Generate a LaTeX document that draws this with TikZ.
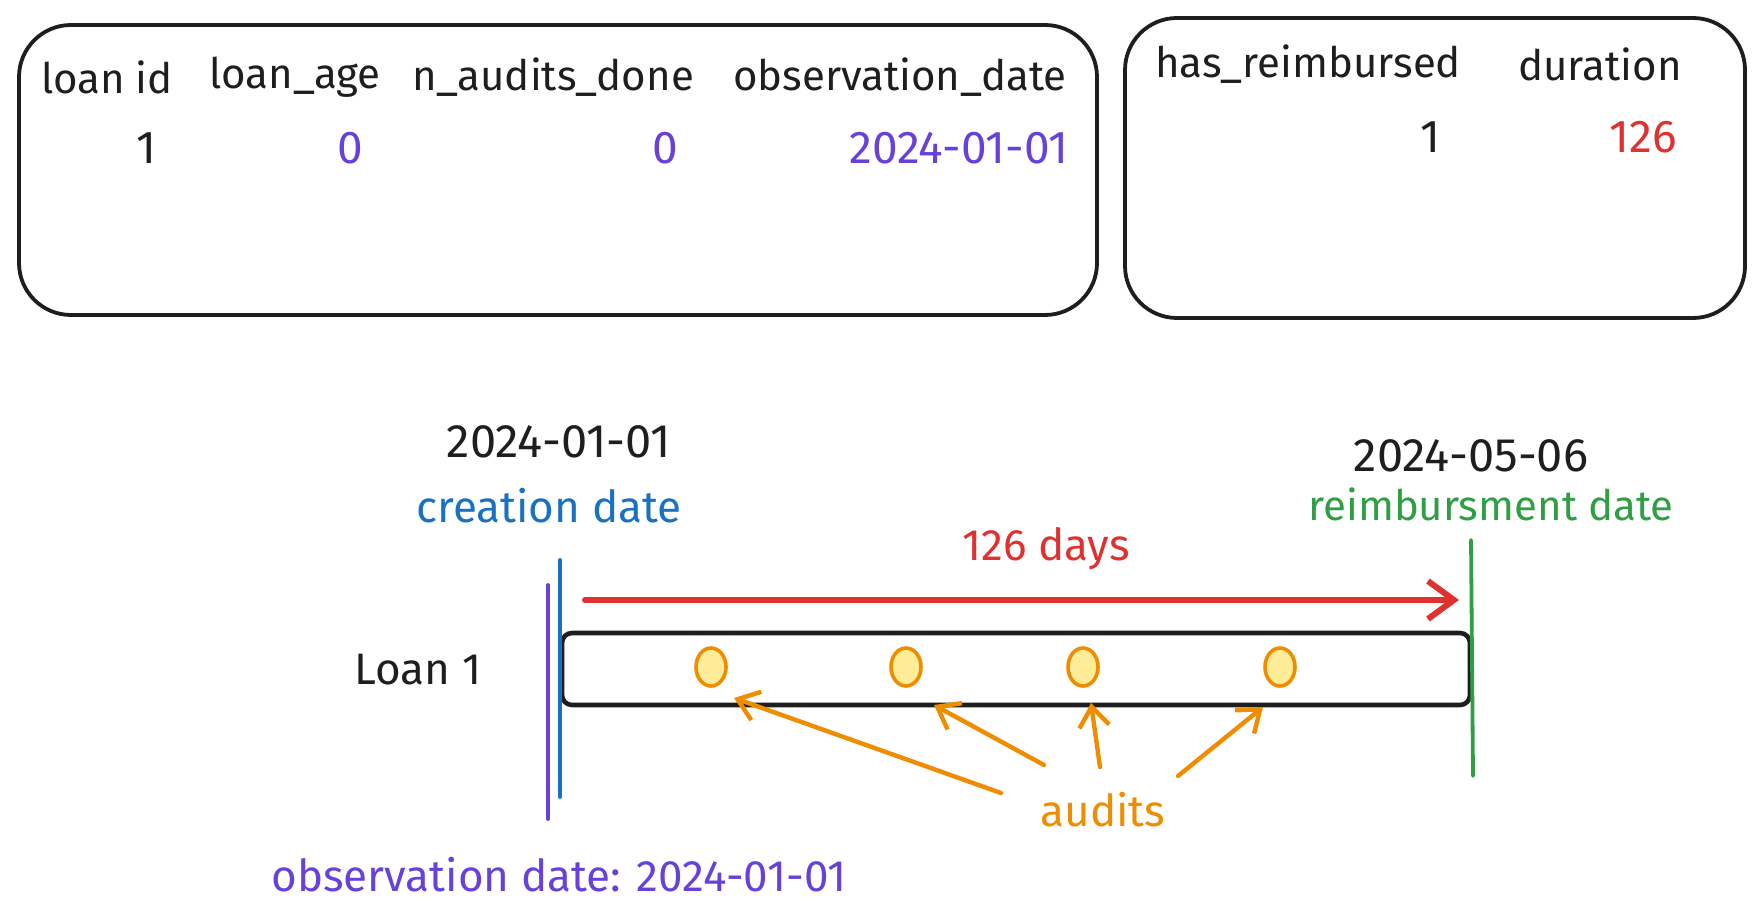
\documentclass[tikz,border=0pt]{standalone}
\usepackage{fontspec}
\setmainfont{Fira Sans}
\usetikzlibrary{arrows.meta,positioning,shapes.geometric}
\definecolor{ink}{HTML}{1E1E1E}
\definecolor{violet}{HTML}{6741D9}
\definecolor{sky}{HTML}{1971C2}
\definecolor{leaf}{HTML}{2F9E44}
\definecolor{brick}{HTML}{E03131}
\definecolor{amber}{HTML}{F08C00}
\definecolor{butter}{HTML}{FFEC99}
\tikzset{
  tablebox/.style={rectangle, draw=ink, line width=1.9pt, rounded corners=26pt},
  txt/.style={inner sep=0pt, text=ink, font=\fontsize{21}{25}\selectfont},
  val/.style={txt, anchor=east, font=\fontsize{23}{27}\selectfont},
  big/.style={txt, font=\fontsize{22}{26}\selectfont},
  datetxt/.style={txt, font=\fontsize{23.5}{28}\selectfont},
  marker/.style={line width=1.9pt, line cap=round},
  loanbar/.style={rectangle, draw=ink, line width=2.3pt, rounded corners=5pt, fill=white},
  audit/.style={ellipse, draw=amber, fill=butter, line width=1.8pt, minimum width=15pt, minimum height=19pt, inner sep=0pt},
  span/.style={-{Straight Barb[length=13pt, width=19pt]}, draw=brick, line width=3pt, line cap=round},
  pointer/.style={-{Straight Barb[length=10pt, width=15pt]}, draw=amber, line width=2.2pt, line cap=round}
}
\begin{document}
\begin{tikzpicture}[x=0.5pt, y=-0.5pt]
 \useasboundingbox (0,0) rectangle (1764,924);

 % input table
 \node[tablebox, minimum width=539pt, minimum height=145pt] (inputs) at (558,170) {};
 \node[txt] (hid) at (107,77) {loan id};
 \node[txt] (hage) at (295,77) {loan\_age};
 \node[txt] (haud) at (553,77) {n\_audits\_done};
 \node[txt] (hobs) at (900,77) {observation\_date};
 \node[val] (vid) at (157,148) {1};
 \node[val, text=violet] (vage) at (364,148) {0};
 \node[val, text=violet] (vaud) at (679,148) {0};
 \node[val, text=violet] (vobs) at (1069,148) {2024-01-01};

 % target table
 \node[tablebox, minimum width=310pt, minimum height=150pt] (targets) at (1435,168) {};
 \node[txt] (hreimb) at (1308,64) {has\_reimbursed};
 \node[txt] (hdur) at (1600,64) {duration};
 \node[val] (vreimb) at (1441,137) {1};
 \node[val, text=brick] (vdur) at (1677,137) {126};

 % timeline
 \node[datetxt] (start) at (559,442) {2024-01-01};
 \node[big, text=sky] (created) at (549,506) {creation date};
 \node[datetxt] (stop) at (1471,456) {2024-05-06};
 \node[big, text=leaf, font=\fontsize{21}{25}\selectfont] (repaid) at (1491,504) {reimbursment date};
 \node[big, text=brick] (days) at (1046,549) {126 days};
 \node[big] (loan) at (418,670) {Loan 1};
 \node[loanbar, minimum width=454pt, minimum height=36pt] (bar) at (1016,669) {};

 \coordinate (obstop) at (548,585);  \coordinate (obsbot) at (548,819);
 \coordinate (crtop) at (560,560);   \coordinate (crbot) at (560,797);
 \coordinate (retop) at (1471,540);  \coordinate (rebot) at (1473,776);
 \draw[marker, violet] (obstop) -- (obsbot);
 \draw[marker, sky] (crtop) -- (crbot);
 \draw[marker, leaf] (retop) -- (rebot);

 \coordinate (spanfrom) at (585,600); \coordinate (spanto) at (1459,600);
 \draw[span] (spanfrom) -- (spanto);

 \foreach \i/\x in {1/711, 2/906, 3/1083, 4/1280}
   \node[audit] (a\i) at (\x,667) {};

 \node[big, text=amber] (audits) at (1103,810) {audits};
 \coordinate (s1) at (1001,793); \coordinate (t1) at (734,698);
 \coordinate (s2) at (1044,765); \coordinate (t2) at (934,705);
 \coordinate (s3) at (1100,767); \coordinate (t3) at (1091,703);
 \coordinate (s4) at (1178,776); \coordinate (t4) at (1263,707);
 \foreach \i in {1,...,4}
   \draw[pointer] (s\i) -- (t\i);

 \node[big, text=violet] (obsdate) at (559,875) {observation date: 2024-01-01};
\end{tikzpicture}
\end{document}
